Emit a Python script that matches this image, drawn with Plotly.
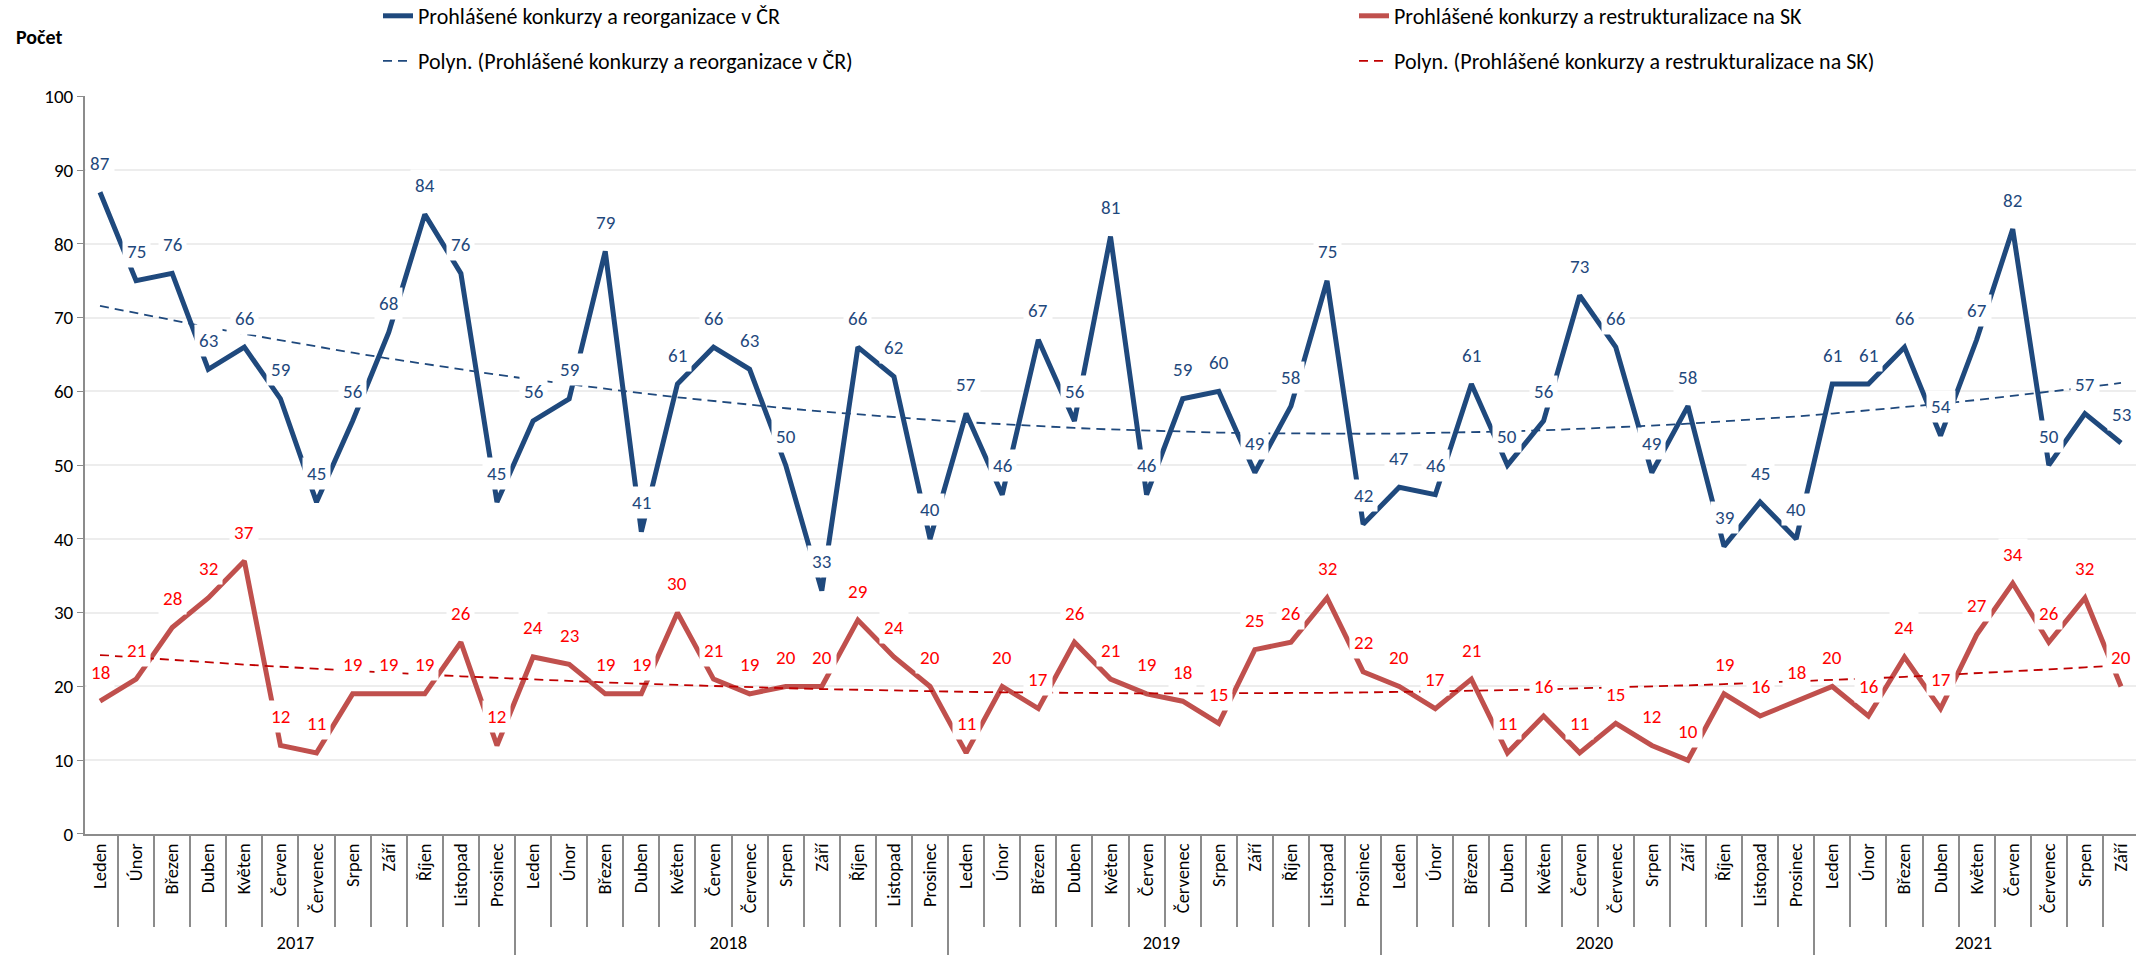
import numpy as np
import plotly.graph_objects as go

# ---- data -------------------------------------------------------------
years = ["2017", "2018", "2019", "2020", "2021"]
months = ["Leden", "Únor", "Březen", "Duben", "Květen", "Červen", "Červenec",
          "Srpen", "Září", "Říjen", "Listopad", "Prosinec"]
months_per_year = [12, 12, 12, 12, 9]

cz_values = [87, 75, 76, 63, 66, 59, 45, 56, 68, 84, 76, 45,
             56, 59, 79, 41, 61, 66, 63, 50, 33, 66, 62, 40,
             57, 46, 67, 56, 81, 46, 59, 60, 49, 58, 75, 42,
             47, 46, 61, 50, 56, 73, 66, 49, 58, 39, 45, 40,
             61, 61, 66, 54, 67, 82, 50, 57, 53]
sk_values = [18, 21, 28, 32, 37, 12, 11, 19, 19, 19, 26, 12,
             24, 23, 19, 19, 30, 21, 19, 20, 20, 29, 24, 20,
             11, 20, 17, 26, 21, 19, 18, 15, 25, 26, 32, 22,
             20, 17, 21, 11, 16, 11, 15, 12, 10, 19, 16, 18,
             20, 16, 24, 17, 27, 34, 26, 32, 20]

name_cz = "Prohlášené konkurzy a reorganizace v ČR"
name_sk = "Prohlášené konkurzy a restrukturalizace na SK"
name_cz_t = "Polyn. (Prohlášené konkurzy a reorganizace v ČR)"
name_sk_t = "Polyn. (Prohlášené konkurzy a restrukturalizace na SK)"

# ---- derived ----------------------------------------------------------
x_year = []
x_month = []
for y, n in zip(years, months_per_year):
    x_year += [y] * n
    x_month += months[:n]
x_cat = [x_year, x_month]

t = np.arange(1, len(cz_values) + 1)
cz_trend = np.polyval(np.polyfit(t, cz_values, 2), t)
sk_trend = np.polyval(np.polyfit(t, sk_values, 2), t)

BLUE = "#1F497D"
RED = "#C0504D"
FONT = "Calibri, Carlito, Lato, sans-serif"

W, H = 2139, 956
ML, MR, MT, MB = 85, 3, 86, 117
PW, PH = W - ML - MR, H - MT - MB

fig = go.Figure()
fig.add_trace(go.Scatter(x=x_cat, y=cz_values, mode="lines", name=name_cz,
                         line=dict(color=BLUE, width=5), legend="legend"))
fig.add_trace(go.Scatter(x=x_cat, y=sk_values, mode="lines", name=name_sk,
                         line=dict(color=RED, width=5), legend="legend"))
fig.add_trace(go.Scatter(x=x_cat, y=cz_trend, mode="lines", name=name_cz_t,
                         line=dict(color=BLUE, width=1.8, dash="9px,6px"),
                         legend="legend2"))
fig.add_trace(go.Scatter(x=x_cat, y=sk_trend, mode="lines", name=name_sk_t,
                         line=dict(color="#C00000", width=1.8, dash="9px,6px"),
                         legend="legend2"))

annotations = []
for vals, col in ((cz_values, BLUE), (sk_values, "#FF0000")):
    for i, v in enumerate(vals):
        annotations.append(dict(x=i, y=v, xref="x", yref="y", text=str(v),
                                showarrow=False, yshift=29, bgcolor="white",
                                borderpad=4,
                                font=dict(family=FONT, size=19, color=col)))
annotations.append(dict(text="<b>Počet</b>", xref="paper", yref="paper",
                        x=(14 - ML) / PW, y=(H - MB - 25) / PH, xanchor="left",
                        yanchor="middle", showarrow=False,
                        font=dict(family=FONT, size=20, color="#000000")))

fig.update_layout(
    width=W, height=H,
    margin=dict(l=ML, r=MR, t=MT, b=MB),
    paper_bgcolor="white", plot_bgcolor="white",
    font=dict(family=FONT, size=18, color="#000000"),
    annotations=annotations,
    legend=dict(orientation="h", xref="container", yref="container",
                x=378 / W, y=1 - 16 / H, xanchor="left", yanchor="middle",
                entrywidth=931, entrywidthmode="pixels",
                font=dict(family=FONT, size=22, color="#000000"),
                bgcolor="rgba(0,0,0,0)"),
    legend2=dict(orientation="h", xref="container", yref="container",
                 x=378 / W, y=1 - 61 / H, xanchor="left", yanchor="middle",
                 entrywidth=931, entrywidthmode="pixels",
                 font=dict(family=FONT, size=22, color="#000000"),
                 bgcolor="rgba(0,0,0,0)"),
    showlegend=True,
)

fig.update_yaxes(range=[0, 100], dtick=10, showgrid=True, gridcolor="#EDEDED",
                 gridwidth=2, zeroline=False, showline=True, linecolor="#8C8C8C",
                 linewidth=2, ticks="outside", ticklen=6, tickcolor="#8C8C8C",
                 tickfont=dict(family=FONT, size=19, color="#000000"))
fig.update_xaxes(type="multicategory", tickangle=-90, ticks="outside",
                 ticklen=91, tickcolor="#8C8C8C", tickwidth=2,
                 showdividers=True, dividercolor="#8C8C8C", dividerwidth=2,
                 showline=True, linecolor="#8C8C8C", linewidth=2,
                 showgrid=False,
                 tickfont=dict(family=FONT, size=18.5, color="#000000"))

fig.write_html("out.html", config={"displayModeBar": False},
               post_script="document.body.style.margin='0';")
